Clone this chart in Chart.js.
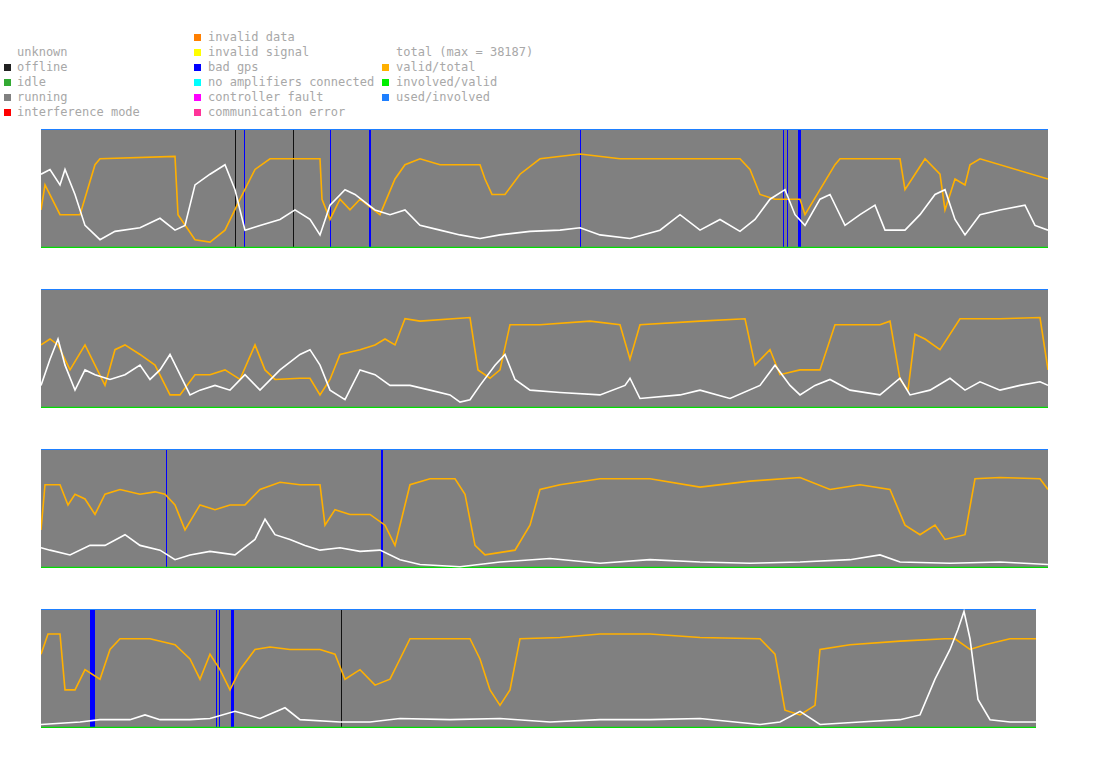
<!DOCTYPE html>
<html><head><meta charset="utf-8">
<script src="https://cdn.jsdelivr.net/npm/chart.js@4/dist/chart.umd.min.js"></script>
<style>
body{margin:0;background:#fff;width:1095px;height:764px;position:relative;overflow:hidden;font-family:"DejaVu Sans Mono",monospace;}
.lg{position:absolute;font-size:12px;color:#a8a8a8;line-height:15px;white-space:pre}
.sw{position:absolute;width:7px;height:7px}
.pn{position:absolute}
</style></head><body>
<div id="legend"></div>
<div class="pn" id="p0" style="left:39px;top:127px;width:1011px;height:124px"><canvas id="c0"></canvas></div>
<div class="pn" id="p1" style="left:39px;top:287px;width:1011px;height:124px"><canvas id="c1"></canvas></div>
<div class="pn" id="p2" style="left:39px;top:447px;width:1011px;height:124px"><canvas id="c2"></canvas></div>
<div class="pn" id="p3" style="left:39px;top:607px;width:1011px;height:124px"><canvas id="c3"></canvas></div>
<script>
// legend entries: [column, row, label, colour or null]
const legendItems = [
 [0,1,"unknown",null],[0,2,"offline","#222222"],[0,3,"idle","#33aa33"],[0,4,"running","#808080"],[0,5,"interference mode","#ff0000"],
 [1,0,"invalid data","#ff7f00"],[1,1,"invalid signal","#ffff00"],[1,2,"bad gps","#0000ff"],[1,3,"no amplifiers connected","#00ffff"],[1,4,"controller fault","#ff00ff"],[1,5,"communication error","#ff3399"],
 [2,1,"total (max = 38187)",null],[2,2,"valid/total","#ffb000"],[2,3,"involved/valid","#00ee00"],[2,4,"used/involved","#1e7fff"]
];
const panelLen = [1007,1007,1007,995];
// valid/total (%) per panel: x, value
const validX = [
 [0,4,19,39,54,59,134,137,154,169,184,199,214,229,254,279,281,289,299,309,319,339,354,364,379,399,439,444,451,464,479,499,539,579,699,709,719,734,759,764,779,794,799,859,864,874,884,899,904,914,924,929,939,1007],
 [0,9,17,29,44,54,64,74,84,99,114,129,139,154,169,184,199,214,224,234,259,269,279,289,299,319,334,344,354,364,379,429,437,449,459,469,499,549,579,589,599,659,704,714,729,739,759,779,794,839,849,859,867,874,884,899,919,959,999,1007],
 [0,4,19,27,34,44,54,64,79,99,114,124,134,144,159,174,189,204,219,239,259,279,284,294,309,329,344,354,369,389,414,424,434,444,474,489,499,519,559,609,659,709,759,789,819,849,864,879,894,904,924,934,959,999,1007],
 [0,7,19,24,34,44,59,69,79,94,109,134,149,159,169,179,189,199,214,229,249,279,294,304,319,334,349,359,369,399,429,439,449,459,469,479,519,559,609,659,719,734,744,759,774,779,809,859,904,914,929,944,969,995]
];
const validV = [
 [32,53,28,28,70,75,77,28,7,5,15,41,66,75,75,75,41,24,41,32,41,28,58,70,75,70,70,58,45,45,62,75,79,75,75,66,45,41,41,28,49,70,75,75,49,62,75,62,32,58,53,70,75,58],
 [53,58,53,32,53,36,19,49,53,45,36,11,11,28,28,32,24,53,32,24,25,25,11,24,45,49,53,58,53,75,73,76,32,25,32,70,70,73,70,41,70,73,75,36,49,28,32,32,70,70,73,24,15,62,58,49,75,75,76,32],
 [32,70,70,53,62,58,45,62,66,62,64,62,53,32,53,49,53,53,66,72,70,70,36,49,45,45,36,19,70,75,75,62,19,11,15,36,66,70,75,75,68,73,76,66,70,66,36,28,36,24,28,75,76,75,66],
 [62,79,79,32,32,49,41,66,75,75,75,70,58,41,62,49,32,49,66,68,66,66,62,41,49,36,41,58,75,75,75,58,32,19,32,75,76,79,79,76,75,62,15,11,19,66,70,73,75,75,66,70,75,75]
];
// used/involved (%) per panel
const usedX = [
 [0,9,19,24,34,44,59,74,99,119,134,144,154,169,184,194,204,219,239,254,269,279,289,304,314,334,349,364,379,399,419,439,459,489,519,539,559,589,619,639,659,679,699,714,729,744,754,764,779,789,804,819,834,844,864,879,894,904,914,924,939,959,984,994,1007],
 [0,9,17,24,34,44,54,69,84,99,109,119,129,139,149,159,174,189,204,219,239,259,269,279,289,304,319,334,349,369,389,409,419,429,439,454,464,474,489,519,559,584,589,599,639,659,689,719,734,749,759,774,789,809,839,859,869,889,909,924,939,959,979,999,1007],
 [0,9,29,49,64,84,99,119,134,149,169,194,214,224,234,249,264,279,299,319,339,359,379,419,459,509,559,609,659,709,759,809,839,859,909,959,1007],
 [0,39,59,89,104,119,149,169,194,219,244,259,299,329,359,409,459,509,559,609,659,719,739,759,779,819,859,879,894,909,917,923,929,937,949,969,995]
];
const usedV = [
 [62,66,53,66,45,19,7,14,17,25,15,19,53,62,70,49,15,19,24,32,24,11,36,49,45,32,28,32,19,15,11,8,11,14,15,17,11,8,15,28,15,24,14,24,41,49,28,19,41,45,19,28,36,15,15,28,45,49,24,11,28,32,36,19,15],
 [19,41,58,36,15,32,28,24,28,36,24,32,45,28,11,15,19,15,28,15,32,45,49,36,15,7,32,28,19,19,15,11,5,7,19,36,45,24,15,13,11,19,25,8,11,15,8,19,36,19,11,19,24,15,11,25,11,15,25,15,22,15,19,22,19],
 [17,15,11,19,19,28,19,15,7,11,14,11,24,41,28,24,19,15,17,14,15,7,3,1,5,8,4,7,5,4,5,7,11,5,4,5,3],
 [3,5,7,7,11,7,7,8,14,8,17,7,5,5,8,7,8,5,7,7,8,3,5,14,3,5,7,11,41,66,83,98,75,24,7,5,5]
];
// bad gps and offline intervals [start,end]
const badGps = [
 [[203,204],[289,290],[328,330],[539,540],[742,743],[746,747],[757,760]],
 [],
 [[125,126],[340,342]],
 [[49,54],[175,176],[178,179],[190,193]]
];
const offline = [[[194,195],[252,253]],[],[],[[300,301]]];

// legend
const lg = document.getElementById('legend');
const colX=[[4,17],[194,208],[382,396]];
legendItems.forEach(([c,r,t,col])=>{
  const y=30+r*15;
  const d=document.createElement('div');d.className='lg';d.textContent=t;
  d.style.left=colX[c][1]+'px';d.style.top=y+'px';lg.appendChild(d);
  if(col){const s=document.createElement('div');s.className='sw';s.style.background=col;
    s.style.left=colX[c][0]+'px';s.style.top=(y+4)+'px';lg.appendChild(s);}
});

const bgPlugin={id:'bg',beforeDatasetsDraw(ch,a,o){
  const {ctx,chartArea:ca,scales:{x}}=ch;
  const x0=x.getPixelForValue(0),x1=x.getPixelForValue(o.len);
  ctx.save();ctx.fillStyle='#808080';ctx.fillRect(x0,ca.top,x1-x0,ca.bottom-ca.top);
  const bars=(list,col)=>{ctx.fillStyle=col;list.forEach(([s,e])=>{
    const p0=x.getPixelForValue(s),p1=x.getPixelForValue(e);ctx.fillRect(p0,ca.top,Math.max(1,p1-p0),ca.bottom-ca.top);});};
  bars(o.off,'#111111');bars(o.gps,'#0000ff');ctx.restore();}};

for(let i=0;i<4;i++){
  const pts=(xs,vs)=>xs.map((v,k)=>({x:v,y:vs[k]}));
  const L=panelLen[i];
  new Chart(document.getElementById('c'+i),{
    type:'line',
    data:{datasets:[
      {data:pts(usedX[i],usedV[i]),borderColor:'#ffffff',borderWidth:1.6},
      {data:pts(validX[i],validV[i]),borderColor:'#ffb000',borderWidth:1.6},
      {data:[{x:0,y:100},{x:L,y:100}],borderColor:'#1e7fff',borderWidth:2},
      {data:[{x:0,y:0},{x:L,y:0}],borderColor:'#00dd00',borderWidth:2.5}
    ]},
    options:{responsive:true,maintainAspectRatio:false,animation:false,
      layout:{padding:{left:2,right:2,top:2,bottom:3}},
      elements:{point:{radius:0},line:{tension:0}},
      plugins:{legend:{display:false},tooltip:{enabled:false},bg:{len:L,gps:badGps[i],off:offline[i]}},
      scales:{x:{type:'linear',min:0,max:1007,display:false},y:{min:0,max:100,display:false}}
    },
    plugins:[bgPlugin]
  });
}
</script></body></html>
